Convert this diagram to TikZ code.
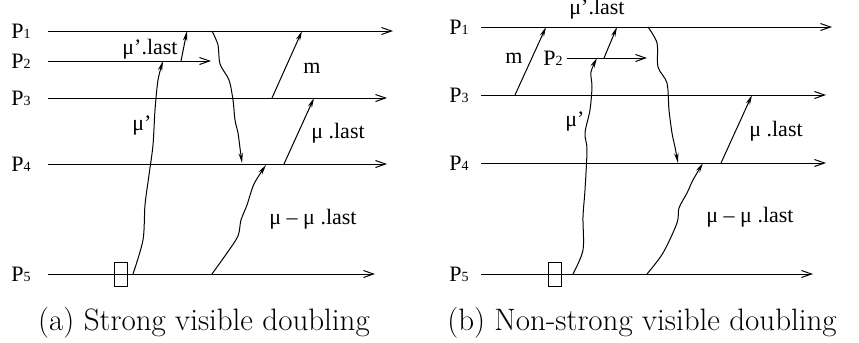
\documentclass[tikz,border=0pt]{standalone}
\usepackage{fontspec}
\newfontfamily\labfont{Liberation Serif}
\usetikzlibrary{arrows.meta}
\newcommand\Pl[1]{P{\fontsize{7}{8}\selectfont #1}}
\begin{document}
\begin{tikzpicture}[x=0.5pt,y=-0.5pt,
  proc/.style={line width=0.5pt,-{Straight Barb[length=5pt,width=3.5pt]}},
  msg/.style={line width=0.5pt,-{Stealth[length=5pt,width=2.2pt]}},
  lbl/.style={font=\labfont\fontsize{11}{13}\selectfont, inner sep=0pt},
  plab/.style={lbl, anchor=west},
  captext/.style={font=\fontsize{15.5}{18}\selectfont, inner sep=0pt},
  stbox/.style={draw, line width=0.5pt, minimum width=6.5pt, minimum height=12pt, inner sep=0pt}]
\useasboundingbox (0,0) rectangle (859,343);

% ---------------- (a) ----------------
\node[plab] (pa1) at (11,31) {\Pl1};
\node[plab] (pa2) at (11,61) {\Pl2};
\node[plab] (pa3) at (11,98) {\Pl3};
\node[plab] (pa4) at (11,164) {\Pl4};
\node[plab] (pa5) at (11,274) {\Pl5};
\coordinate (a1s) at (48,31);  \coordinate (a1e) at (393,31);
\coordinate (a2s) at (48,61);  \coordinate (a2e) at (211,61);
\coordinate (a3s) at (48,98);  \coordinate (a3e) at (387,98);
\coordinate (a4s) at (48,164); \coordinate (a4e) at (387,164);
\coordinate (a5s) at (48,274); \coordinate (a5e) at (375,274);
\draw[proc] (a1s) -- (a1e);
\draw[proc] (a2s) -- (a2e);
\draw[proc] (a3s) -- (a3e);
\draw[proc] (a4s) -- (a4e);
\draw[proc] (a5s) -- (a5e);
\node[stbox] (boxa) at (120.5,274) {};

% mu' (wavy) P5 -> P2
\coordinate (amu0) at (133,274); \coordinate (amu1) at (163,61);
\draw[msg] plot[smooth,tension=0.5] coordinates {(amu0) (143,240) (145,205) (149,175) (153,145) (155,110) (158,80) (amu1)};
% mu'.last P2 -> P1
\coordinate (aml0) at (181,61); \coordinate (aml1) at (187,31);
\draw[msg] (aml0) -- (aml1);
% wavy P1 -> P4
\coordinate (aw0) at (212,31); \coordinate (aw1) at (242,163);
\draw[msg] plot[smooth,tension=0.5] coordinates {(aw0) (218,45) (220,64) (229,80) (233,100) (235,120) (238,133) (240,148) (aw1)};
% m P3 -> P1
\coordinate (am0) at (272,98); \coordinate (am1) at (302,31);
\draw[msg] (am0) -- (am1);
% mu.last P4 -> P3
\coordinate (al0) at (284,164); \coordinate (al1) at (314,98);
\draw[msg] (al0) -- (al1);
% mu - mu.last P5 -> P4
\coordinate (ad0) at (212,274); \coordinate (ad1) at (266,165);
\draw[msg] plot[smooth,tension=0.5] coordinates {(ad0) (227,253) (238,236) (241,220) (247,205) (254,184) (ad1)};

\node[lbl] (ta1) at (150,49) {μ’.last};
\node[lbl] (ta2) at (312,68) {m};
\node[lbl] (ta3) at (142,126) {μ’};
\node[lbl] (ta4) at (338,133) {μ .last};
\node[lbl] (ta5) at (313,219) {μ – μ .last};
\node[captext] (capa) at (204,323) {(a) Strong visible doubling};

% ---------------- (b) ----------------
\node[plab] (pb1) at (449,27) {\Pl1};
\node[plab] (pb2) at (543,58) {\Pl2};
\node[plab] (pb3) at (449,95) {\Pl3};
\node[plab] (pb4) at (449,163) {\Pl4};
\node[plab] (pb5) at (449,274) {\Pl5};
\coordinate (b1s) at (481,27);  \coordinate (b1e) at (832,27);
\coordinate (b2s) at (567,58);  \coordinate (b2e) at (647,58);
\coordinate (b3s) at (481,95);  \coordinate (b3e) at (826,95);
\coordinate (b4s) at (481,163); \coordinate (b4e) at (826,163);
\coordinate (b5s) at (481,274); \coordinate (b5e) at (813,274);
\draw[proc] (b1s) -- (b1e);
\draw[proc] (b2s) -- (b2e);
\draw[proc] (b3s) -- (b3e);
\draw[proc] (b4s) -- (b4e);
\draw[proc] (b5s) -- (b5e);
\node[stbox] (boxb) at (554.5,274) {};

% mu' (wavy) P5 -> P2
\coordinate (bmu0) at (573,274); \coordinate (bmu1) at (597,58);
\draw[msg] plot[smooth,tension=0.5] coordinates {(bmu0) (583,250) (583,217) (585,190) (587,150) (585,133) (590,110) (592,87) (591,72) (bmu1)};
% mu'.last P2 -> P1
\coordinate (bml0) at (604,58); \coordinate (bml1) at (617,27);
\draw[msg] (bml0) -- (bml1);
% m P3 -> P1
\coordinate (bm0) at (515,95); \coordinate (bm1) at (546,27);
\draw[msg] (bm0) -- (bm1);
% wavy P1 -> P4
\coordinate (bw0) at (648,27); \coordinate (bw1) at (678,163);
\draw[msg] plot[smooth,tension=0.5] coordinates {(bw0) (657,43) (658,67) (667,83) (669,110) (672,133) (675,147) (bw1)};
% mu.last P4 -> P3
\coordinate (bl0) at (721,163); \coordinate (bl1) at (752,95);
\draw[msg] (bl0) -- (bl1);
% mu - mu.last P5 -> P4
\coordinate (bd0) at (647,274); \coordinate (bd1) at (703,163);
\draw[msg] plot[smooth,tension=0.5] coordinates {(bd0) (663,253) (677,223) (679,208) (687,193) (693,180) (bd1)};

\node[lbl] (tb1) at (597,9) {μ’.last};
\node[lbl] (tb2) at (514,58) {m};
\node[lbl] (tb3) at (575,122) {μ’};
\node[lbl] (tb4) at (776,131) {μ .last};
\node[lbl] (tb5) at (750,217) {μ – μ .last};
\node[captext] (capb) at (642,323) {(b) Non-strong visible doubling};
\end{tikzpicture}
\end{document}
